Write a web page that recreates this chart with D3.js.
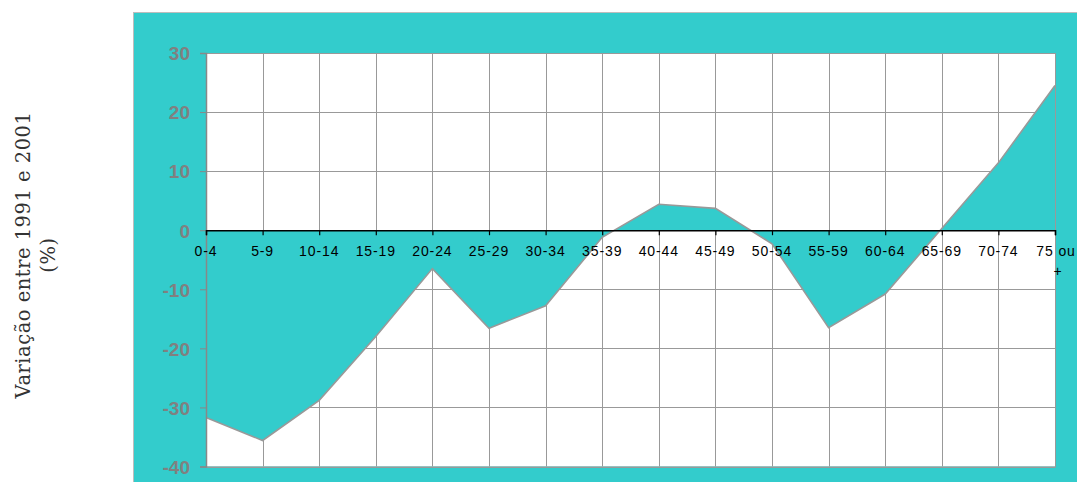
<!DOCTYPE html>
<html>
<head>
<meta charset="utf-8">
<script src="https://cdn.jsdelivr.net/npm/d3@7"></script>
<style>
  html, body { margin: 0; padding: 0; background: #ffffff; }
  svg { display: block; }
</style>
</head>
<body>
<svg id="chart" width="1077" height="482"></svg>
<script>
// Age groups and population change 1991–2001 (%)
const ageGroups = ["0-4", "5-9", "10-14", "15-19", "20-24", "25-29", "30-34", "35-39",
                   "40-44", "45-49", "50-54", "55-59", "60-64", "65-69", "70-74", "75 ou +"];
const variation = [-31.7, -35.6, -28.8, -18.0, -6.5, -16.6, -12.8, -1.2,
                   4.4, 3.7, -2.3, -16.5, -10.8, 0.3, 11.4, 24.5];
const yTicks = [-40, -30, -20, -10, 0, 10, 20, 30];
const yTitle = ["Variação entre 1991 e 2001", "(%)"];

const teal = "#33cccc";
const gridColor = "#999999";

const svg = d3.select("#chart");

// chart frame
svg.append("rect")
  .attr("x", 133.5).attr("y", 12.5)
  .attr("width", 1100).attr("height", 500)
  .attr("fill", teal)
  .attr("stroke", "#bdbdbd").attr("stroke-width", 1);

const plot = { left: 206, right: 1055, top: 53, bottom: 466.5 };

const x = d3.scalePoint()
  .domain(ageGroups)
  .range([plot.left, plot.right]);

const y = d3.scaleLinear()
  .domain([-40, 30])
  .range([plot.bottom, plot.top]);

// plot background
svg.append("rect")
  .attr("x", plot.left).attr("y", plot.top)
  .attr("width", plot.right - plot.left).attr("height", plot.bottom - plot.top)
  .attr("fill", "#ffffff");

// horizontal gridlines
svg.append("g")
  .selectAll("line")
  .data(yTicks)
  .join("line")
  .attr("x1", plot.left).attr("x2", plot.right)
  .attr("y1", d => Math.round(y(d)) + 0.5).attr("y2", d => Math.round(y(d)) + 0.5)
  .attr("stroke", gridColor).attr("stroke-width", 1);

// vertical gridlines
svg.append("g")
  .selectAll("line")
  .data(ageGroups)
  .join("line")
  .attr("x1", d => Math.round(x(d)) + 0.5).attr("x2", d => Math.round(x(d)) + 0.5)
  .attr("y1", plot.top).attr("y2", plot.bottom)
  .attr("stroke", gridColor).attr("stroke-width", 1);

// filled area between zero and the values
const area = d3.area()
  .x(d => x(d.g))
  .y0(y(0))
  .y1(d => y(d.v));
const series = ageGroups.map((g, i) => ({ g, v: variation[i] }));

svg.append("path")
  .datum(series)
  .attr("d", area)
  .attr("fill", teal);

svg.append("path")
  .datum(series)
  .attr("d", d3.line().x(d => x(d.g)).y(d => y(d.v)))
  .attr("fill", "none")
  .attr("stroke", "#999999")
  .attr("stroke-width", 1.6);

// plot border
svg.append("rect")
  .attr("x", plot.left + 0.5).attr("y", plot.top + 0.5)
  .attr("width", plot.right - plot.left).attr("height", plot.bottom - plot.top)
  .attr("fill", "none")
  .attr("stroke", gridColor).attr("stroke-width", 1);

// y axis
const yAxis = svg.append("g")
  .attr("transform", `translate(${plot.left},0)`)
  .call(d3.axisLeft(y).tickValues(yTicks).tickSize(6).tickPadding(10).tickFormat(d => String(d)));
yAxis.select(".domain").attr("stroke", "#888888").attr("stroke-width", 1.5);
yAxis.selectAll(".tick line").attr("stroke", "#888888");
yAxis.selectAll(".tick text")
  .attr("fill", "#808080")
  .style("font-family", "Liberation Sans, Arial, sans-serif")
  .style("font-size", "19px")
  .style("font-weight", "bold")
  .attr("dy", "0.36em");

// zero axis with category ticks
const xAxis = svg.append("g")
  .attr("transform", `translate(0,${y(0)})`)
  .call(d3.axisBottom(x).tickSize(5).tickPadding(8).tickFormat(""));
xAxis.select(".domain").attr("stroke", "#000000").attr("stroke-width", 1.5);
xAxis.selectAll(".tick line").attr("stroke", "#000000").attr("stroke-width", 1.2);

// category labels
const labels = svg.append("g")
  .style("font-family", "Liberation Sans, Arial, sans-serif")
  .style("font-size", "14px")
  .attr("fill", "#000000");
ageGroups.forEach(g => {
  const t = labels.append("text")
    .attr("x", x(g)).attr("y", y(0) + 26)
    .attr("text-anchor", "middle")
    .style("letter-spacing", "0.9px");
  if (g === "75 ou +") {
    t.append("tspan").attr("x", x(g) + 1).text("75 ou");
    t.append("tspan").attr("x", x(g) + 3).attr("dy", "1.4em").text("+");
  } else {
    t.text(g);
  }
});

// y title
const title = svg.append("text")
  .attr("transform", "translate(34,255) rotate(-90)")
  .attr("text-anchor", "middle")
  .style("font-family", "DejaVu Serif, serif")
  .style("font-size", "19.5px")
  .style("letter-spacing", "0.5px")
  .attr("fill", "#333333");
title.append("tspan").attr("x", 0).attr("dy", "-0.2em").text(yTitle[0]);
title.append("tspan").attr("x", 0).attr("dy", "1.3em").text(yTitle[1]);
</script>
</body>
</html>
